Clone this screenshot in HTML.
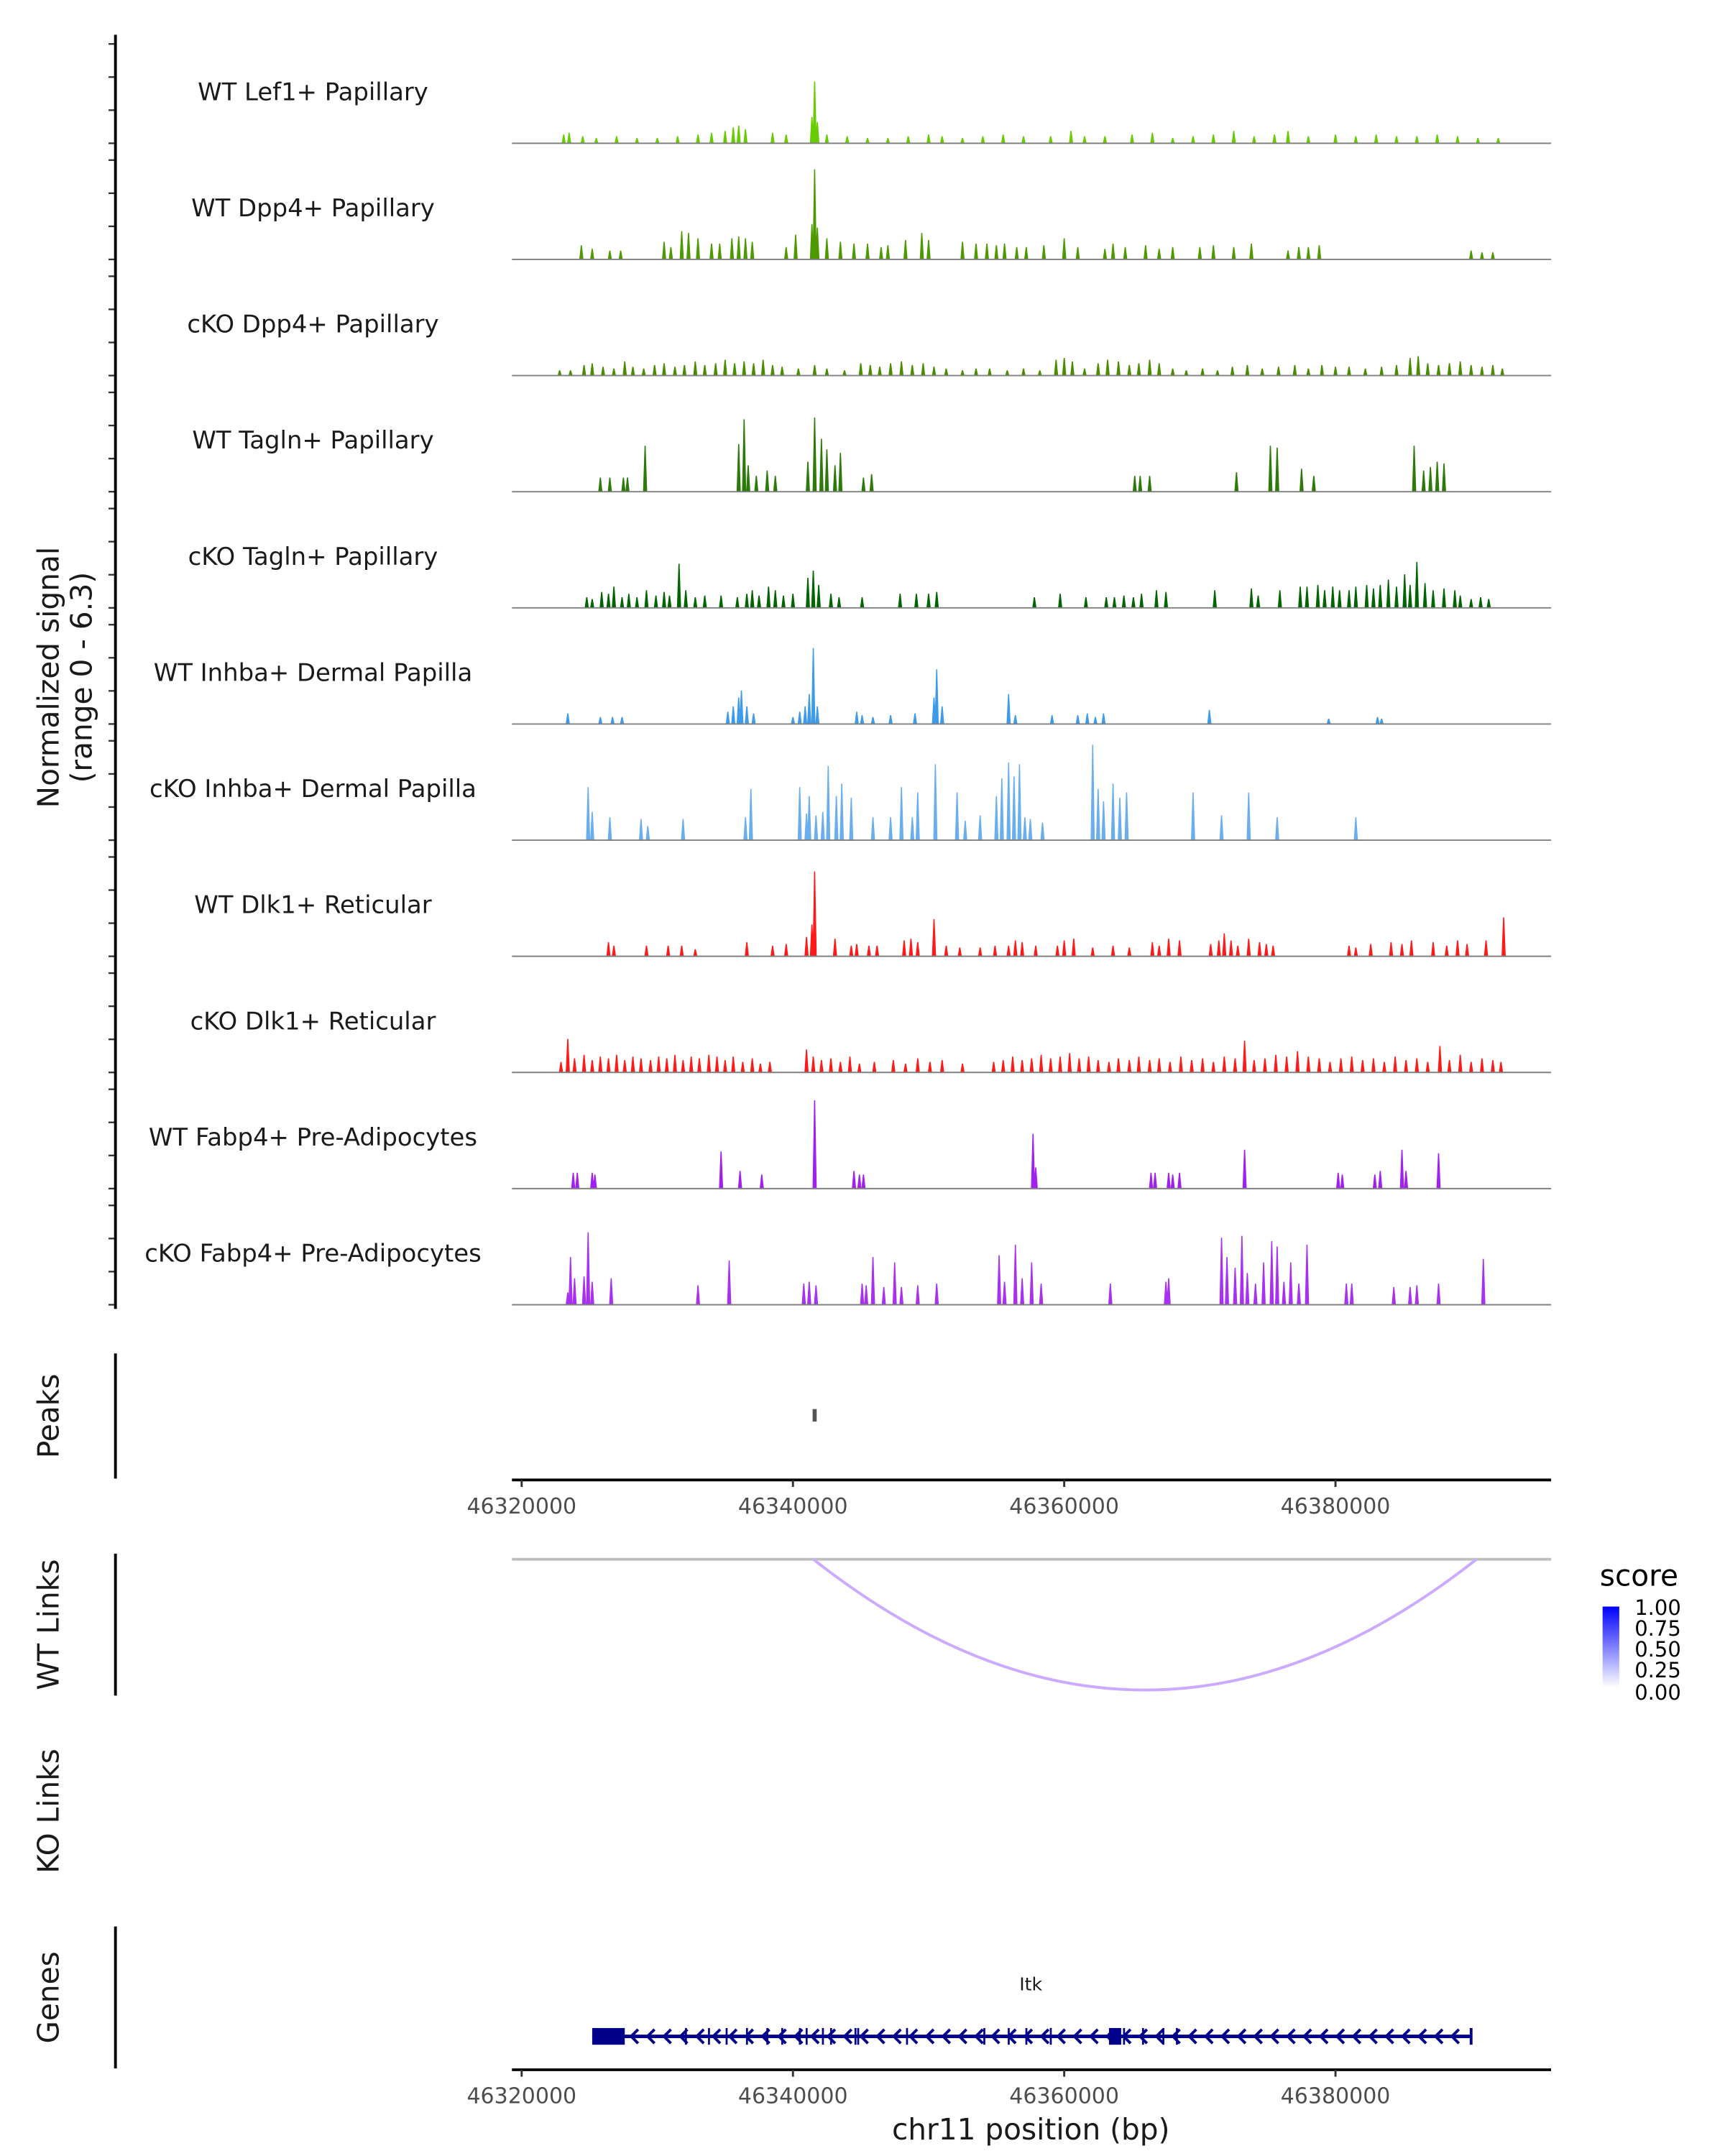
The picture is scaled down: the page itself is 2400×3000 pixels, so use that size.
<!DOCTYPE html>
<html><head><meta charset="utf-8">
<style>
html,body{margin:0;padding:0;background:#fff;}
svg{display:block;font-family:"DejaVu Sans","Liberation Sans",sans-serif;}
</style></head>
<body>
<svg id="chart" width="2400" height="3000" viewBox="0 0 1240 1550" xmlns="http://www.w3.org/2000/svg">
<g id="tracks"></g>
<g id="axes"></g>
<text transform="translate(42,487) rotate(-90)" text-anchor="middle" font-size="21" fill="#1a1a1a">Normalized signal</text>
<text transform="translate(66,487) rotate(-90)" text-anchor="middle" font-size="21" fill="#1a1a1a">(range 0 - 6.3)</text>
<text transform="translate(42,1018) rotate(-90)" text-anchor="middle" font-size="21" fill="#1a1a1a">Peaks</text>
<text transform="translate(42,1168) rotate(-90)" text-anchor="middle" font-size="21" fill="#1a1a1a">WT Links</text>
<text transform="translate(42,1302) rotate(-90)" text-anchor="middle" font-size="21" fill="#1a1a1a">KO Links</text>
<text transform="translate(42,1436) rotate(-90)" text-anchor="middle" font-size="21" fill="#1a1a1a">Genes</text>
<text x="741" y="1538" text-anchor="middle" font-size="21" fill="#1a1a1a">chr11 position (bp)</text>
<text x="741" y="1431" text-anchor="middle" font-size="13" fill="#1a1a1a">Itk</text>
<defs><linearGradient id="sg" x1="0" y1="1" x2="0" y2="0"><stop offset="0" stop-color="#ffffff"/><stop offset="1" stop-color="#0000ff"/></linearGradient></defs>
<g>
<text x="1150" y="1140" font-size="21" fill="#000">score</text>
<rect x="1152" y="1155" width="12" height="58" fill="url(#sg)"/>
<g font-size="15" fill="#000">
<text x="1175" y="1161">1.00</text>
<text x="1175" y="1176">0.75</text>
<text x="1175" y="1191">0.50</text>
<text x="1175" y="1206">0.25</text>
<text x="1175" y="1222">0.00</text>
</g></g>
</svg>
<script>
// ---- data (positions in kb offset from 46,320,000; heights in normalized signal) ----
const trackNames = ["WT Lef1+ Papillary","WT Dpp4+ Papillary","cKO Dpp4+ Papillary","WT Tagln+ Papillary","cKO Tagln+ Papillary","WT Inhba+ Dermal Papilla","cKO Inhba+ Dermal Papilla","WT Dlk1+ Reticular","cKO Dlk1+ Reticular","WT Fabp4+ Pre-Adipocytes","cKO Fabp4+ Pre-Adipocytes"];
const trackColors = ["#66cc00","#4c9a00","#4a8c00","#2c7a0a","#006400","#3d9be9","#6aaeed","#ff1a1a","#ff1a1a","#a020f0","#a830f0"];
const t1 = [[3.1,.5],[3.5,.6],[4.5,.4],[5.5,.3],[7,.4],[8.5,.3],[10,.3],[11.5,.4],[13,.5],[14,.6],[15,.7],[15.6,.9],[16,1.0],[16.5,.8],[18.5,.6],[19.5,.5],[21.4,1.5],[21.6,3.5],[21.8,1.2],[22.5,.5],[24,.4],[25.5,.3],[27,.3],[28.5,.4],[30,.5],[31,.4],[32.5,.3],[34,.4],[35.5,.5],[37,.4],[39,.4],[40.5,.7],[41.5,.4],[43,.4],[45,.5],[46.5,.6],[48,.3],[49.5,.4],[51,.5],[52.5,.7],[54,.4],[55.5,.5],[56.5,.7],[58,.4],[60,.5],[61.5,.4],[63,.5],[64.5,.4],[66,.4],[67.5,.5],[69,.4],[70.5,.3],[72,.3]];
const t2 = [[4.4,.8],[5.2,.6],[6.5,.5],[7.3,.5],[10.5,1.0],[11,.7],[11.8,1.6],[12.3,1.5],[13,1.2],[14,.9],[14.6,.9],[15.5,1.2],[16,1.3],[16.5,1.2],[17,1.0],[19.5,.7],[20.2,1.4],[21.4,2.0],[21.6,5.1],[21.8,1.8],[22.5,1.2],[23.5,1.0],[24.5,.9],[25.5,.9],[26.5,.7],[27,.8],[28.3,1.1],[29.5,1.5],[30,1.1],[32.5,1.0],[33.5,.9],[34.3,.9],[35,.8],[35.6,.9],[36.5,.7],[37.2,.7],[38.5,.8],[40,1.2],[41,.7],[43,.6],[43.6,.9],[44.5,.7],[46,.8],[47,.6],[48,.7],[50,.7],[51,.8],[52.5,.7],[53.8,.9],[56.5,.5],[57.3,.7],[58,.7],[58.8,.8],[70,.5],[70.8,.4],[71.6,.4]];
const t3 = [[2.8,.3],[3.6,.3],[4.6,.6],[5.2,.7],[6,.5],[6.8,.4],[7.6,.8],[8.2,.5],[9,.4],[9.8,.6],[10.5,.7],[11.3,.5],[12,.6],[12.8,.8],[13.5,.6],[14.3,.7],[15,.9],[15.7,.7],[16.4,.8],[17.1,.7],[17.8,.9],[18.5,.6],[19.2,.5],[20.4,.4],[21.6,.6],[22.5,.4],[23.8,.3],[25,.7],[25.7,.6],[26.4,.5],[27.2,.7],[28,.8],[28.8,.6],[29.6,.7],[30.4,.5],[31.3,.4],[32.5,.3],[33.5,.4],[34.5,.4],[35.8,.3],[37,.4],[38.2,.3],[39.4,.9],[40,1.0],[40.6,.8],[41.5,.4],[42.5,.7],[43.2,.9],[44,.8],[44.8,.6],[45.5,.7],[46.3,.9],[47,.7],[48,.4],[49,.3],[50.2,.4],[51.3,.3],[52.4,.5],[53.5,.6],[54.6,.4],[55.8,.5],[57,.6],[58,.4],[59,.6],[60,.5],[61,.5],[62.2,.4],[63.4,.5],[64.5,.6],[65.5,1.0],[66.1,1.1],[66.8,.7],[67.6,.6],[68.4,.7],[69.2,.8],[70,.6],[70.8,.5],[71.6,.6],[72.3,.4]];
const t4 = [[5.8,.8],[6.5,.8],[7.5,.8],[7.8,.8],[9.1,2.6],[16.0,2.7],[16.4,4.1],[16.7,1.5],[17.3,.9],[18.1,1.2],[18.7,.9],[21.1,1.7],[21.6,4.2],[22.1,3.0],[22.5,2.4],[23.1,1.5],[23.5,2.2],[25.2,.8],[25.8,1.0],[45.2,.9],[45.6,.9],[46.3,.9],[52.7,1.1],[55.2,2.6],[55.7,2.5],[57.5,1.3],[58.4,.9],[65.8,2.6],[66.5,1.2],[67,1.4],[67.5,1.7],[68,1.6]];
const t5 = [[4.8,.6],[5.2,.5],[5.9,.9],[6.4,.8],[6.8,1.2],[7.4,.6],[7.9,.8],[8.5,.6],[9.2,1.0],[9.9,.7],[10.5,.9],[10.9,.7],[11.6,2.5],[12.1,1.0],[12.8,.6],[13.5,.7],[14.7,.7],[15.9,.6],[16.6,.8],[17,1.0],[17.5,.7],[18.2,1.2],[18.7,1.0],[19.3,.7],[20,.8],[21.1,1.7],[21.5,2.1],[21.9,1.3],[22.8,.8],[23.4,.6],[25.1,.6],[27.9,.8],[29.1,.8],[30,.8],[30.6,.9],[37.8,.6],[39.7,.8],[41.6,.6],[43.1,.6],[43.7,.6],[44.4,.7],[45.1,.6],[45.7,.8],[46.8,1.0],[47.5,.9],[51.1,1.0],[53.8,1.1],[54.3,.7],[55.9,1.0],[57.4,1.2],[57.9,1.2],[58.7,1.3],[59.2,1.0],[59.8,1.2],[60.3,1.0],[61,1.0],[61.5,1.2],[62.3,1.3],[62.8,1.1],[63.3,1.3],[63.9,1.6],[64.5,1.2],[65.1,1.9],[65.5,1.3],[66,2.6],[66.6,1.4],[67.2,1.0],[68,1.1],[68.8,1.0],[69.2,.7],[70,.5],[70.7,.6],[71.3,.5]];
const t6 = [[3.4,.6],[5.8,.4],[6.7,.4],[7.4,.4],[15.2,.7],[15.6,1.0],[16,1.5],[16.2,1.9],[16.6,1.0],[17.1,.6],[20,.4],[20.5,.7],[20.9,1.0],[21.2,1.7],[21.5,4.3],[21.8,1.0],[24.7,.7],[25.1,.5],[25.9,.4],[27.2,.5],[29,.6],[30.4,1.5],[30.6,3.1],[31,1.0],[35.9,1.7],[36.4,.5],[39.1,.5],[41,.5],[41.7,.6],[42.3,.4],[42.9,.6],[50.7,.8],[59.5,.3],[63.1,.4],[63.4,.3]];
const t7 = [[4.9,3.0],[5.2,1.6],[6.5,1.3],[8.8,1.2],[9.3,.8],[11.9,1.2],[16.5,1.3],[16.9,2.9],[20.5,3.0],[21,1.5],[21.2,2.5],[21.7,1.4],[22.2,1.6],[22.6,4.2],[23.2,2.5],[23.6,3.2],[24.3,2.4],[25.9,1.3],[27.2,1.3],[28,3.0],[28.8,1.3],[29.2,2.7],[30.5,4.3],[32.1,2.7],[32.7,1.1],[33.8,1.4],[35,2.5],[35.4,3.5],[35.9,4.4],[36.3,3.6],[36.7,4.3],[37.1,1.3],[37.5,1.2],[38.4,1.0],[42.1,5.4],[42.5,2.9],[42.9,2.2],[43.6,3.2],[44.1,2.4],[44.6,2.7],[49.5,2.7],[51.6,1.4],[53.6,2.7],[55.7,1.3],[61.5,1.3]];
const t8 = [[6.4,.8],[6.8,.6],[9.2,.6],[10.8,.6],[11.8,.6],[12.8,.4],[16.6,.8],[18.5,.6],[19.5,.7],[21,1.1],[21.4,1.8],[21.6,4.8],[23.1,1.0],[24.3,.6],[24.7,.7],[25.6,.6],[26.2,.6],[28.2,.9],[28.7,1.0],[29.2,.8],[30.4,2.1],[31.3,.6],[32.3,.5],[33.8,.5],[34.9,.6],[35.9,.6],[36.4,.9],[36.9,.8],[37.9,.6],[39.5,.6],[40,.9],[40.7,1.0],[42.1,.5],[43.6,.6],[44.8,.5],[46.5,.8],[47,.6],[47.7,1.0],[48.5,.9],[50.8,.7],[51.4,.9],[51.8,1.3],[52.3,.9],[52.8,.6],[53.6,1.0],[54.4,.8],[54.9,.7],[55.4,.6],[61,.6],[61.5,.5],[62.6,.7],[64.1,.8],[64.9,.7],[65.6,.9],[67.2,.8],[68.2,.6],[69,.9],[69.7,.7],[71.1,.9],[72.4,2.2]];
const t9 = [[2.9,.6],[3.4,1.9],[3.9,.8],[4.6,1.0],[5.2,.7],[5.8,.9],[6.4,.8],[7,1.0],[7.6,.7],[8.2,.9],[8.8,.8],[9.5,.7],[10.1,.9],[10.7,.8],[11.3,1.0],[11.9,.7],[12.5,.9],[13.1,.8],[13.8,1.0],[14.4,.9],[15,.7],[15.6,.9],[16.3,.6],[17,.8],[17.6,.5],[18.3,.6],[21,1.3],[21.5,.9],[22.1,.7],[22.8,.8],[23.5,.6],[24.2,.9],[24.9,.5],[26,.6],[27.4,.7],[28.3,.5],[29.2,.8],[30.1,.6],[31,.7],[32.5,.5],[34.8,.6],[35.5,.7],[36.2,.9],[36.9,.7],[37.6,.8],[38.3,1.0],[39,.8],[39.7,.9],[40.4,1.1],[41.1,.8],[41.8,.9],[42.5,.7],[43.3,.6],[44,.8],[44.8,.7],[45.5,.9],[46.3,.7],[47,.8],[47.8,.6],[48.6,.9],[49.4,.7],[50.2,.8],[51,.6],[51.8,.9],[52.6,.8],[53.3,1.8],[54,.7],[54.8,.8],[55.6,1.0],[56.4,.9],[57.2,1.2],[58,.9],[58.8,.8],[59.6,.6],[60.4,.8],[61.2,.9],[62,.7],[62.8,.8],[63.6,.6],[64.4,.9],[65.2,.7],[66,.8],[66.8,.6],[67.7,1.5],[68.4,.7],[69.2,1.0],[70,.6],[70.8,.8],[71.6,.7],[72.2,.6]];
const t10 = [[3.8,.9],[4.1,.9],[5.2,.9],[5.4,.8],[14.7,2.1],[16.1,1.0],[17.7,.8],[21.6,5.0],[24.5,1.0],[24.9,.8],[25.2,.8],[37.7,3.1],[37.9,1.2],[46.4,.9],[46.7,.9],[47.7,.9],[48,.8],[48.5,.9],[53.3,2.2],[60.2,.9],[60.5,.8],[62.9,.8],[63.3,1.0],[64.9,2.2],[65.2,1.0],[67.6,2.0]];
const t11 = [[3.4,.7],[3.6,2.7],[3.9,1.5],[4.6,1.6],[4.9,4.1],[5.2,1.3],[6.6,1.5],[13,1.1],[15.3,2.5],[20.8,1.2],[21.2,1.3],[21.7,1.1],[25.1,1.2],[25.4,1.1],[25.9,2.7],[26.7,1.0],[27.5,2.4],[28,1.0],[29.2,1.1],[30.6,1.2],[35.2,2.8],[35.6,1.3],[36.4,3.4],[36.9,1.5],[37.6,2.4],[38.3,1.2],[43.4,1.2],[47.5,1.3],[47.7,1.5],[51.6,3.8],[52,2.7],[52.6,2.1],[53.1,3.9],[53.5,1.8],[54.1,1.2],[54.7,2.4],[55.3,3.6],[55.7,3.3],[56.2,1.3],[56.7,2.4],[57.3,1.2],[57.9,3.4],[60.8,1.2],[61.2,1.2],[64.3,1.0],[65.5,1.0],[66,1.1],[67.6,1.2],[70.9,2.6]];
const trackData = [t1,t2,t3,t4,t5,t6,t7,t8,t9,t10,t11];
const peakRanges = [[21.45,21.75]];
const xTicks = [46320000,46340000,46360000,46380000];
const linkStart = [21.5];
const linkEnd = [70.4];
const linkScore = [0.35];
const geneSpan = [5.2,70.0];
const bigExons = [[5.2,7.6],[43.3,44.2]];
const smallExons = [12.1,13.8,15.1,16.6,18.1,19.2,20.5,21.0,22.2,22.8,24.6,24.8,28.4,34.1,35.9,37.2,39.0,44.4,45.8,47.3,48.3];

// ---- scales ----
const NS = "http://www.w3.org/2000/svg";
const X0 = 375, PXKB = 9.75, XL = 368, XR = 1115;
function xs(kb){ return X0 + kb*PXKB; }
function xbp(bp){ return xs((bp-46320000)/1000); }
const BASE0 = 103, STEP = 83.5, YMAX = 6.3, TH = 80;
function ys(v, base){ return base - v/YMAX*TH; }
function mk(tag, attrs, parent){ const e=document.createElementNS(NS,tag); for(const k in attrs) e.setAttribute(k,attrs[k]); parent.appendChild(e); return e; }

const tracks = document.getElementById('tracks');
const axes = document.getElementById('axes');

trackData.forEach((arr, i) => {
  const base = BASE0 + i*STEP;
  const g = mk('g', {}, tracks);
  
  
  const lab = mk('text', {x:225, y:base-31, 'text-anchor':'middle', 'font-size':17.5, fill:'#1a1a1a'}, g);
  lab.textContent = trackNames[i];
  
  
  let d = '';
  arr.forEach(p => {
    const x = xs(p[0]), yt = ys(p[1], base);
    d += `M${(x-1.5).toFixed(2)},${base}L${(x-0.4).toFixed(2)},${yt.toFixed(2)}L${(x+0.4).toFixed(2)},${yt.toFixed(2)}L${(x+1.5).toFixed(2)},${base}Z`;
  });
  const path = mk('path', {d:d, fill:trackColors[i]}, g);
  
  
  const bl = mk('line', {x1:XL, x2:XR, y1:base, y2:base, stroke:'#808080', 'stroke-width':1}, g);
  
  
  for (let k=0;k<4;k++){
    const ty = base - k*23.8;
    const t = mk('line', {x1:78, x2:83, y1:ty, y2:ty, stroke:'#333', 'stroke-width':1.2}, axes);
    
    
  }
});

function vline(x,y1,y2,name){ const l=mk('line',{x1:x,x2:x,y1:y1,y2:y2,stroke:'#000','stroke-width':2},axes);   }
vline(83,25,941,'y-axis-line');
vline(83,973,1063,'peaks-axis-line');
vline(83,1117,1219,'wt-links-axis-line');
vline(83,1385,1487,'genes-axis-line');

peakRanges.forEach(p => {
  const r = mk('rect', {x:xs(p[0]), y:1013, width:Math.max(2,xs(p[1])-xs(p[0])), height:9, fill:'#555'}, axes);
  
  
});

function xAxis(y, name){
  const g = mk('g', {}, axes);
  
  
  mk('line', {x1:XL, x2:XR, y1:y, y2:y, stroke:'#000', 'stroke-width':2}, g);
  xTicks.forEach(t => {
    const x = xbp(t);
    mk('line', {x1:x, x2:x, y1:y, y2:y+5, stroke:'#333', 'stroke-width':1.5}, g);
    const tx = mk('text', {x:x, y:y+24, 'text-anchor':'middle', 'font-size':15.5, fill:'#4d4d4d'}, g);
    tx.textContent = t;
    
    
  });
}
xAxis(1064, 'peaks-x-axis');
xAxis(1488, 'genes-x-axis');

const ll = mk('line', {x1:XL, x2:XR, y1:1121, y2:1121, stroke:'#bfbfbf', 'stroke-width':2}, axes);


linkStart.forEach((s, i) => {
  const a = xs(s), b = xs(linkEnd[i]);
  const c = Math.round(255*(1-linkScore[i]*0.6));
  const arc = mk('path', {d:`M${a},1121 Q${(a+b)/2},1309 ${b},1121`, fill:'none', stroke:`rgb(${c+2},${c-31},255)`, 'stroke-width':2}, axes);
  
  
});

const gg = mk('g', {fill:'#00008b', stroke:'#00008b'}, axes);


const gx1 = xs(geneSpan[0]), gx2 = xs(geneSpan[1]);
mk('line', {x1:gx1, x2:gx2, y1:1464, y2:1464, 'stroke-width':2.5}, gg);
mk('line', {x1:gx2, x2:gx2, y1:1458, y2:1470, 'stroke-width':2}, gg);
for (let x = gx1+30; x < gx2-4; x += 11.8) {
  mk('path', {d:`M${x+3},1459 L${x-2},1464 L${x+3},1469`, fill:'none', 'stroke-width':2}, gg);
}
bigExons.forEach(e => { mk('rect', {x:xs(e[0]), y:1458, width:xs(e[1])-xs(e[0]), height:12, stroke:'none'}, gg); });
smallExons.forEach(e => { mk('rect', {x:xs(e)-0.6, y:1458, width:1.4, height:12, stroke:'none'}, gg); });
</script>
</body></html>
